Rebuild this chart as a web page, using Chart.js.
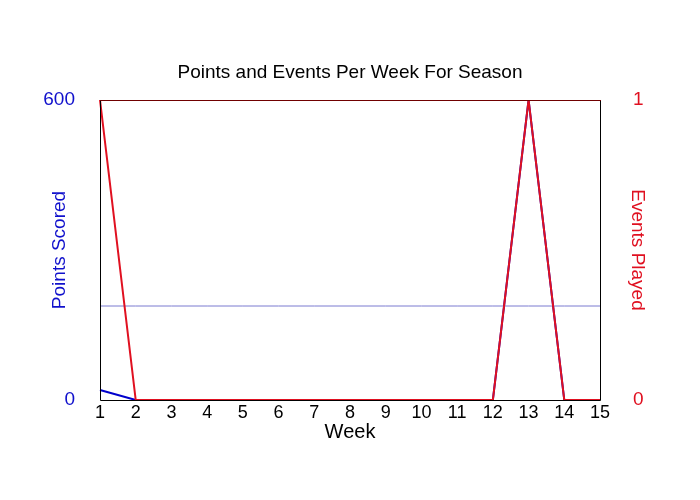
<!DOCTYPE html>
<html>
<head>
<meta charset="utf-8">
<script src="https://cdn.jsdelivr.net/npm/chart.js@4/dist/chart.umd.min.js"></script>
<style>
  html, body { margin: 0; padding: 0; background: #fff; }
  #wrap { width: 700px; height: 500px; }
</style>
</head>
<body>
<div id="wrap"><canvas id="myChart" width="700" height="500"></canvas></div>
<script>
var weeks = ['1', '2', '3', '4', '5', '6', '7', '8', '9', '10', '11', '12', '13', '14', '15'];
var pointsScored = [20, 0, 0, 0, 0, 0, 0, 0, 0, 0, 0, 0, 600, 0, 0];
var eventsPlayed = [1, 0, 0, 0, 0, 0, 0, 0, 0, 0, 0, 0, 1, 0, 0];
var pointsRef = [188, 188, 188, 188, 188, 188, 188, 188, 188, 188, 188, 188, 188, 188, 188];
var pointsTicks = [0, 600];
var eventsTicks = [0, 1];

var FONT = 'Liberation Sans, Arial, sans-serif';

// frame round the plot: black sides, dark red top
var framePlugin = {
  id: 'frame',
  afterDatasetsDraw: function(chart) {
    var a = chart.chartArea;
    var ctx = chart.ctx;
    ctx.save();
    ctx.lineWidth = 1;
    ctx.strokeStyle = '#000000';
    ctx.beginPath();
    ctx.moveTo(a.left + 0.5, a.top);
    ctx.lineTo(a.left + 0.5, a.bottom + 0.5);
    ctx.lineTo(a.right + 0.5, a.bottom + 0.5);
    ctx.lineTo(a.right + 0.5, a.top);
    ctx.stroke();
    ctx.strokeStyle = '#700000';
    ctx.beginPath();
    ctx.moveTo(a.left, a.top + 0.5);
    ctx.lineTo(a.right + 1, a.top + 0.5);
    ctx.stroke();
    ctx.restore();
  }
};

function init() {
  var ctx = document.getElementById('myChart').getContext('2d');
  var myChart = new Chart(ctx, {
    type: 'line',
    data: {
      labels: weeks,
      datasets: [{
        label: 'Average',
        data: pointsRef,
        yAxisID: 'yPoints',
        borderColor: '#7b7bd0',
        borderWidth: 1,
        pointRadius: 0,
        tension: 0,
        order: 3
      },
      {
        label: 'Points Scored',
        data: pointsScored,
        yAxisID: 'yPoints',
        borderColor: '#0000cc',
        borderWidth: 2,
        pointRadius: 0,
        tension: 0,
        order: 2
      },
      {
        label: 'Events Played',
        data: eventsPlayed,
        yAxisID: 'yEvents',
        borderColor: '#e01020',
        borderWidth: 2,
        pointRadius: 0,
        tension: 0,
        order: 1
      }]
    },
    options: {
      responsive: false,
      animation: false,
      devicePixelRatio: 1,
      layout: { padding: { left: 0, right: 0, top: 0, bottom: 50 } },
      plugins: {
        legend: { display: false },
        tooltip: { enabled: false },
        title: {
          display: true,
          text: 'Points and Events Per Week For Season',
          color: '#000000',
          font: { family: FONT, size: 19, weight: 'normal' },
          padding: { top: 61.6, bottom: 15.6 }
        }
      },
      scales: {
        x: {
          offset: false,
          grid: { display: false, drawTicks: false },
          border: { display: false },
          ticks: {
            color: '#000000',
            font: { family: FONT, size: 18 },
            padding: 2,
            maxRotation: 0,
            autoSkip: false
          },
          title: {
            display: true,
            text: 'Week',
            color: '#000000',
            font: { family: FONT, size: 20 },
            padding: { top: 0, bottom: 6 }
          },
          afterFit: function(scale) { scale.height = 50; }
        },
        yPoints: {
          position: 'left',
          min: 0,
          max: 600,
          grid: { display: false, drawTicks: false },
          border: { display: false },
          afterBuildTicks: function(scale) {
            scale.ticks = pointsTicks.map(function(v) { return { value: v }; });
          },
          ticks: {
            color: '#1010cc',
            font: { family: FONT, size: 19 },
            padding: 25
          },
          title: {
            display: true,
            text: 'Points Scored',
            color: '#1010cc',
            font: { family: FONT, size: 19 },
            padding: { top: 48, bottom: 0 }
          },
          afterFit: function(scale) { scale.width = 100; }
        },
        yEvents: {
          position: 'right',
          min: 0,
          max: 1,
          grid: { display: false, drawTicks: false },
          border: { display: false },
          afterBuildTicks: function(scale) {
            scale.ticks = eventsTicks.map(function(v) { return { value: v }; });
          },
          ticks: {
            color: '#e01020',
            font: { family: FONT, size: 19 },
            padding: 33
          },
          title: {
            display: true,
            text: 'Events Played',
            color: '#e01020',
            font: { family: FONT, size: 19 },
            padding: { top: 51, bottom: 0 }
          },
          afterFit: function(scale) { scale.width = 100; }
        }
      }
    },
    plugins: [framePlugin]
  });
}

init();
</script>
</body>
</html>
